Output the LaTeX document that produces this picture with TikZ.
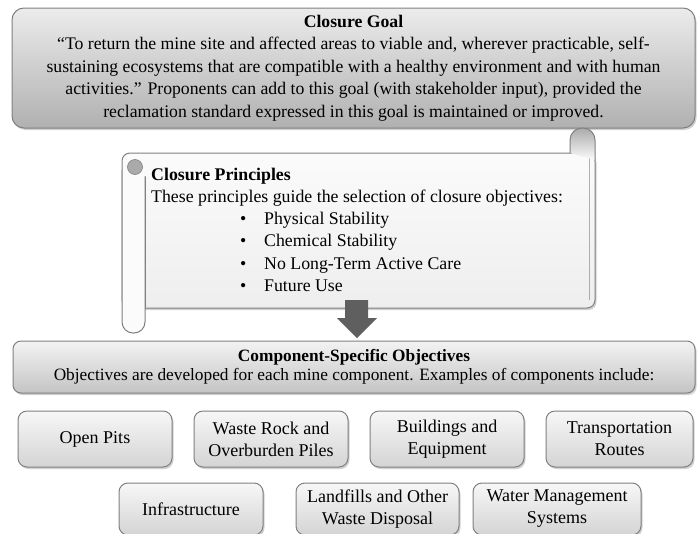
\documentclass[tikz,border=0pt]{standalone}
\usepackage{fontspec}
\setmainfont{Liberation Serif}
\usetikzlibrary{shadows}

\definecolor{edgegray}{RGB}{128,128,128}
\definecolor{goaltop}{RGB}{236,236,236}
\definecolor{goalbot}{RGB}{176,176,176}
\definecolor{comptop}{RGB}{243,243,243}
\definecolor{compbot}{RGB}{196,196,196}
\definecolor{itemtop}{RGB}{247,247,247}
\definecolor{itembot}{RGB}{212,212,212}
\definecolor{scrolltop}{RGB}{251,251,251}
\definecolor{scrollbot}{RGB}{238,238,238}
\definecolor{curlgray}{RGB}{170,170,170}
\definecolor{arrowgray}{RGB}{95,95,95}

\tikzset{
  softshadow/.style={drop shadow={shadow xshift=1.5pt, shadow yshift=-2pt, opacity=0.3, fill=black!60}},
  goalbox/.style={draw=edgegray, line width=1pt, rounded corners=12pt, top color=goaltop, bottom color=goalbot, softshadow, align=center, inner sep=0pt, font=\fontsize{17.7}{22.5}\selectfont},
  compbox/.style={draw=edgegray, line width=1pt, rounded corners=8pt, top color=comptop, bottom color=compbot, softshadow, align=center, inner sep=0pt, font=\fontsize{17.3}{19}\selectfont},
  itembox/.style={draw=edgegray, line width=1pt, rounded corners=9pt, top color=itemtop, bottom color=itembot, softshadow, align=center, inner sep=0pt, font=\fontsize{18}{22}\selectfont},
  scrolltext/.style={anchor=base west, inner sep=0pt, font=\fontsize{17.8}{20}\selectfont},
}

\begin{document}
\begin{tikzpicture}[x=1pt,y=-1pt]
	%%%%% START %%%%%
	\useasboundingbox (0,0) rectangle (699,533);

	% goal
	\node[goalbox, minimum width=683pt, minimum height=120pt] (goal) at (353.5,68)
		{\textbf{Closure Goal}\\
		“To return the mine site and affected areas to viable and, wherever practicable, self-\\
		sustaining ecosystems that are compatible with a healthy environment and with human\\
		activities.” Proponents can add to this goal (with stakeholder input), provided the\\
		reclamation standard expressed in this goal is maintained or improved.};

	% scroll
	\draw[edgegray, line width=1pt, top color=scrolltop, bottom color=scrollbot, rounded corners=8pt, softshadow] (122,153) rectangle (595,308);
	\draw[edgegray, line width=0.6pt, opacity=0.6] (589,156) -- (589,300);
	\draw[edgegray, line width=1pt, fill=scrolltop, rounded corners=11pt] (122,170) -- (122,333) -- (145,333) -- (145,176);
	\draw[edgegray, line width=1pt] (145,177) -- (145,308);
	\draw[edgegray, line width=1pt, top color=curlgray, bottom color=scrolltop, rounded corners=12pt] (570,153) -- (570,128) -- (595,128) -- (595,160);
	\draw[edgegray, line width=0.6pt, fill=curlgray] (135,167) circle (7.5);

	\node[scrolltext] (prtitle) at (151,180) {\textbf{Closure Principles}};
	\node[scrolltext] (prtext) at (151,202) {These principles guide the selection of closure objectives:};
	\foreach \i/\txt in {1/Physical Stability, 2/Chemical Stability, 3/No Long-Term Active Care, 4/Future Use} {
		\node[scrolltext] (dot\i) at (240,224+22.6*\i-22.6) {\textbullet};
		\node[scrolltext] (pr\i) at (264,224+22.6*\i-22.6) {\txt};
	}

	% arrow
	\coordinate (tip) at (357,338);
	\fill[arrowgray] (tip) -- (337,318) -- (345,318) -- (345,300) -- (368,300) -- (368,318) -- (377,318) -- cycle;

	% components
	\node[compbox, minimum width=682pt, minimum height=52pt] (comp) at (354,367)
		{\textbf{Component-Specific Objectives}\\
		Objectives are developed for each mine component. Examples of components include:};

	\node[itembox, minimum width=154pt, minimum height=56pt] (pits) at (95,439) {Open Pits};
	\node[itembox, minimum width=154pt, minimum height=56pt] (waste) at (271,439) {Waste Rock and\\Overburden Piles};
	\node[itembox, minimum width=154pt, minimum height=56pt] (build) at (447,439) {Buildings and\\Equipment};
	\node[itembox, minimum width=147pt, minimum height=56pt] (trans) at (619.5,439) {Transportation\\Routes};

	\node[itembox, minimum width=144pt, minimum height=52pt] (infra) at (191,509) {Infrastructure};
	\node[itembox, minimum width=163pt, minimum height=52pt] (landfill) at (377.5,509) {Landfills and Other\\Waste Disposal};
	\node[itembox, minimum width=168pt, minimum height=52pt] (water) at (557,509) {Water Management\\Systems};
	%%%%% END %%%%%
\end{tikzpicture}
\end{document}
